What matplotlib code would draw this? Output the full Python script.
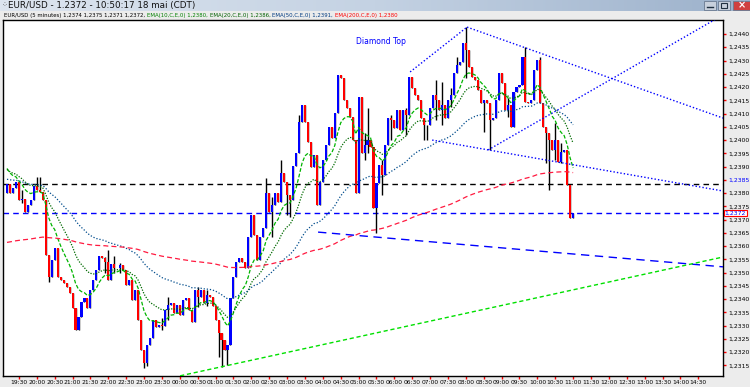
import numpy as np
import pandas as pd
import matplotlib.pyplot as plt
from matplotlib.patches import Rectangle
from matplotlib.ticker import FixedLocator, FuncFormatter
from matplotlib.colors import LinearSegmentedColormap

# EUR/USD 5 minute candles
first_open = 1.23800
closes = [
    1.23834, 1.23800, 1.23819, 1.23842, 1.23774, 1.23778, 1.23729, 1.23755, 1.23774, 1.23827,
    1.23812, 1.23804, 1.23774, 1.23567, 1.23484, 1.23548, 1.23593, 1.23484, 1.23472, 1.23461,
    1.23446, 1.23423, 1.23367, 1.23284, 1.23333, 1.23390, 1.23405, 1.23367, 1.23435, 1.23472,
    1.23510, 1.23563, 1.23555, 1.23540, 1.23472, 1.23533, 1.23518, 1.23518, 1.23529, 1.23510,
    1.23454, 1.23472, 1.23397, 1.23435, 1.23322, 1.23209, 1.23160, 1.23227, 1.23254, 1.23322,
    1.23295, 1.23303, 1.23299, 1.23359, 1.23378, 1.23386, 1.23348, 1.23378, 1.23340, 1.23397,
    1.23405, 1.23359, 1.23314, 1.23435, 1.23408, 1.23435, 1.23386, 1.23416, 1.23408, 1.23374,
    1.23322, 1.23273, 1.23246, 1.23209, 1.23227, 1.23405, 1.23484, 1.23540, 1.23555, 1.23540,
    1.23518, 1.23635, 1.23717, 1.23642, 1.23548, 1.23635, 1.23668, 1.23800, 1.23729, 1.23755,
    1.23800, 1.23767, 1.23876, 1.23842, 1.23793, 1.23774, 1.23902, 1.23951, 1.24068, 1.24132,
    1.24068, 1.23993, 1.23898, 1.23944, 1.23755, 1.23842, 1.23925, 1.23981, 1.24049, 1.24008,
    1.24102, 1.24245, 1.24234, 1.24151, 1.24121, 1.24087, 1.24000, 1.23800, 1.24162, 1.23951,
    1.23981, 1.24000, 1.23974, 1.23744, 1.23838, 1.23906, 1.23868, 1.23981, 1.24083, 1.24076,
    1.24045, 1.24113, 1.24038, 1.24113, 1.24094, 1.24238, 1.24196, 1.24170, 1.24151, 1.24083,
    1.24057, 1.24057, 1.24121, 1.24170, 1.24151, 1.24113, 1.24132, 1.24083, 1.24151, 1.24170,
    1.24253, 1.24283, 1.24294, 1.24366, 1.24340, 1.24275, 1.24238, 1.24226, 1.24189, 1.24140,
    1.24151, 1.24140, 1.24076, 1.24083, 1.24151, 1.24253, 1.24215, 1.24113, 1.24132, 1.24049,
    1.24181, 1.24200, 1.24208, 1.24313, 1.24144, 1.24140, 1.24151, 1.24264, 1.24302, 1.24140,
    1.24049, 1.24027, 1.24000, 1.23963, 1.24000, 1.23917, 1.23955, 1.23963, 1.23831, 1.23706,
    1.23725,
]
wick_high = {
    5: 1.23812, 10: 1.23861, 11: 1.23861, 33: 1.23559, 34: 1.23586, 36: 1.23563, 38: 1.23537,
    52: 1.23329, 54: 1.23408, 64: 1.23446, 66: 1.23435, 67: 1.23435, 87: 1.23857, 89: 1.23785,
    92: 1.23925, 98: 1.24094, 120: 1.24027, 121: 1.24121, 126: 1.23925, 129: 1.24094,
    134: 1.24121, 144: 1.24226, 146: 1.24219, 149: 1.24196, 151: 1.24313, 154: 1.24426,
    168: 1.24159, 174: 1.24351, 179: 1.24313, 184: 1.24064, 186: 1.23989,
}
wick_low = {
    5: 1.23763, 14: 1.23465, 33: 1.23499, 36: 1.23499, 38: 1.23499, 46: 1.23141, 47: 1.23148,
    52: 1.23284, 54: 1.23322, 64: 1.23371, 67: 1.23374, 71: 1.23182, 72: 1.23144, 74: 1.23152,
    75: 1.23227, 89: 1.23635, 94: 1.23717, 95: 1.23710, 120: 1.23925, 121: 1.23951,
    124: 1.23650, 126: 1.23793, 129: 1.24000, 134: 1.24019, 140: 1.24000, 141: 1.24000,
    144: 1.24076, 146: 1.24057, 149: 1.24125, 154: 1.24234, 160: 1.24030, 162: 1.23963,
    168: 1.24087, 181: 1.23914, 182: 1.23812, 184: 1.23925, 186: 1.23914,
}

# moving averages: period, value just before the first candle, colour, dash pattern
ma_periods = [10, 20, 50, 200]
ma_seeds = [1.23906, 1.23895, 1.23853, 1.23612]
ma_colors = ['#00b400', '#006a00', '#004c8c', '#ff1a40']
ma_dashes = [(3, 1.5), (1, 1.2), (1, 1.5), (4, 2.5)]

# drawn objects (candle index, price)
diamond_lines = [
    ((135.3, 1.24257), (154.4, 1.24426)),
    ((154.4, 1.24426), (240.3, 1.24083)),
    ((142.7, 1.24000), (240.3, 1.23808)),
    ((161.5, 1.23963), (240.3, 1.24472)),
]
blue_dash_line = ((104.4, 1.23653), (240.3, 1.23522))
green_line = ((58.1, 1.23111), (240.3, 1.23559))
black_level = 1.23834
last_price = 1.23725

y_ticks = np.round(np.arange(1.2315, 1.24401, 0.0005), 4)
times = pd.date_range(end='2012-05-18 11:00', periods=len(closes), freq='5min')

legend_parts = [
    ('EUR/USD (5 minutes) 1,2374 1,2375 1,2371 1,2372, ', 'black'),
    ('EMA(10,C,E,0) 1,2380, ', '#008000'),
    ('EMA(20,C,E,0) 1,2386, ', '#006000'),
    ('EMA(50,C,E,0) 1,2391, ', '#003a80'),
    ('EMA(200,C,E,0) 1,2380', '#ff0000'),
]

n = len(closes)
idx = np.arange(n)
opens = [first_open] + closes[:-1]
highs = [max(o, c) for o, c in zip(opens, closes)]
lows = [min(o, c) for o, c in zip(opens, closes)]
for k, v in wick_high.items():
    highs[k] = max(highs[k], v)
for k, v in wick_low.items():
    lows[k] = min(lows[k], v)


def ema(values, period, seed):
    a = 2 / (period + 1)
    out, v = [], seed
    for x in values:
        v = v + a * (x - v)
        out.append(v)
    return out


W, H = 750, 387
fig = plt.figure(figsize=(W / 100, H / 100), dpi=100, facecolor='#ececec')
ax = fig.add_axes([3 / W, 11 / H, 720 / W, 356 / H])
ax.set_facecolor('white')
ax.set_xlim(-1.34, 240.3)
ax.set_ylim(1.231104, 1.244528)

# levels
ax.axhline(black_level, color='black', lw=1, dashes=(4, 3))
ax.axhline(last_price, color='#0000ff', lw=1, dashes=(4, 3))

# candles
ax.vlines(idx, lows, highs, color='black', lw=1, zorder=3)
body_col = ['#0000ff' if c > o else ('#ff0000' if c < o else 'black') for o, c in zip(opens, closes)]
bottoms = [min(o, c) for o, c in zip(opens, closes)]
heights = [max(abs(c - o), 0.000015) for o, c in zip(opens, closes)]
ax.bar(idx, heights, bottom=bottoms, width=0.7, color=body_col, lw=0, zorder=4, antialiased=False)

# moving averages
for p, s, col, d in zip(ma_periods, ma_seeds, ma_colors, ma_dashes):
    ax.plot(idx, ema(closes, p, s), color=col, lw=0.9, dashes=d, zorder=5)

# trend lines
for (x0, y0), (x1, y1) in diamond_lines:
    ax.plot([x0, x1], [y0, y1], color='#0000ff', lw=1, dashes=(1, 1.5), zorder=6)
ax.plot(*zip(*blue_dash_line), color='#0000ff', lw=1, dashes=(6, 4), zorder=6)
ax.plot(*zip(*green_line), color='#00e000', lw=1, dashes=(3, 2), zorder=6)
ax.text(117.2, 1.24373, 'Diamond Top', color='#0000ff', fontsize=5.5, va='center', ha='left')

# axes styling
for sp in ax.spines.values():
    sp.set_color('black')
    sp.set_linewidth(1)
ax.yaxis.tick_right()
ax.yaxis.set_major_locator(FixedLocator(y_ticks))
ax.yaxis.set_major_formatter(FuncFormatter(lambda v, pos: f'{v:.4f}'.replace('.', ',')))
ax.tick_params(axis='y', color='red', length=2.5, width=1, labelsize=4.4, pad=1, labelcolor='black')
for t, v in zip(ax.get_yticklabels(), y_ticks):
    if abs(v - 1.2385) < 1e-6:
        t.set_color('#0000ff')
ax.text(1.0025, last_price, f'{last_price:.4f}'.replace('.', ','), transform=ax.get_yaxis_transform(),
        fontsize=4.4, va='center', ha='left', color='#0000ff', zorder=10,
        bbox=dict(boxstyle='square,pad=0.15', fc='white', ec='red', lw=0.8))

tick_pos = [i for i, t in enumerate(times) if t.minute % 30 == 0]
step = times[1] - times[0]
tick_pos = tick_pos + list(range(tick_pos[-1] + 6, 238, 6))
tick_lab = [(times[0] + step * i).strftime('%H:%M') for i in tick_pos]
ax.set_xticks(tick_pos)
ax.set_xticklabels(tick_lab)
ax.tick_params(axis='x', color='red', length=2, width=1, labelsize=4.3, pad=1, labelcolor='black')

# window title bar
tax = fig.add_axes([0, 376 / H, 1, 11 / H])
grad = np.linspace(0, 1, 256).reshape(1, -1)
cmap = LinearSegmentedColormap.from_list('tb', ['#dde5ef', '#c4d2e3', '#9cb1cb'])
tax.imshow(grad, aspect='auto', cmap=cmap, extent=[0, W, 0, 11])
tax.set_xlim(0, W)
tax.set_ylim(0, 11)
tax.axis('off')
tax.text(8, 5.5, 'EUR/USD - 1.2372 - 10:50:17 18 mai (CDT)', fontsize=6.3, va='center', ha='left', color='#101010')
tax.text(1.5, 5.5, '⁘', fontsize=5, va='center', ha='left', color='#404040')
for x0, wd, fc in [(704, 12, '#c8d0dc'), (718, 12, '#c8d0dc'), (733, 17, '#d04040')]:
    tax.add_patch(Rectangle((x0, 1), wd, 9, fc=fc, ec='#6a7a90', lw=0.6))
tax.plot([707, 713], [4, 4], color='#203040', lw=1)
tax.add_patch(Rectangle((721, 3), 6, 5, fc='none', ec='#203040', lw=0.8))
tax.text(741.5, 5.5, '×', fontsize=7, color='white', ha='center', va='center', fontweight='bold')

# indicator legend line, pieces placed one after the other
renderer = fig.canvas.get_renderer()
xpos = 4 / W
for s, col in legend_parts:
    t = fig.text(xpos, 1 - 15 / H, s, fontsize=3.9, color=col, va='center', ha='left')
    bb = t.get_window_extent(renderer=renderer)
    xpos = bb.x1 / W

fig.savefig('out.png', dpi=100, facecolor=fig.get_facecolor())
